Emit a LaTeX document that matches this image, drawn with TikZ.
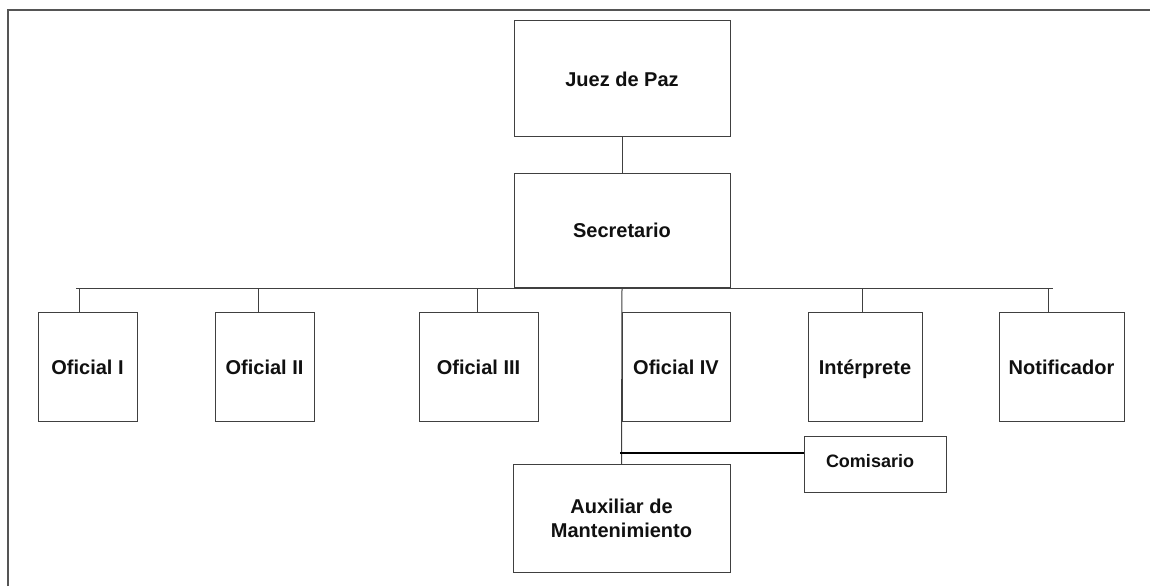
\documentclass[tikz,border=0pt]{standalone}
\usepackage{fontspec}
\setmainfont{Liberation Sans}
\definecolor{linec}{HTML}{404040}
\definecolor{framec}{HTML}{555555}
\definecolor{txtc}{HTML}{101010}
\begin{document}
\begin{tikzpicture}[x=1pt,y=-1pt,
  box/.style={draw=linec, line width=1pt, inner sep=0pt, outer sep=0pt, align=center,
    text=txtc, font=\bfseries\fontsize{20}{24}\selectfont},
  onebox/.style={box, text height=15.5pt, text depth=0pt},
  conn/.style={draw=linec, line width=1pt},
  thickconn/.style={draw=black, line width=2pt}]
\useasboundingbox (0,0) rectangle (1150,586);
\fill[white] (0,0) rectangle (1150,586);
% frame
\draw[framec, line width=2pt] (8,586) -- (8,10) -- (1150,10);
% nodes
\node[onebox, minimum width=216, minimum height=115] (juez) at (622,78.5) {Juez de Paz};
\node[onebox, minimum width=216, minimum height=114] (sec) at (622,230) {Secretario};
\node[onebox, minimum width=99, minimum height=109] (ofi1) at (87.5,366.5) {Oficial I};
\node[onebox, minimum width=99, minimum height=109] (ofi2) at (264.5,366.5) {Oficial II};
\node[onebox, minimum width=119, minimum height=109] (ofi3) at (478.5,366.5) {Oficial III};
\node[onebox, minimum width=108, minimum height=109] (ofi4) at (676,366.5) {Oficial IV};
\node[onebox, minimum width=114, minimum height=109] (inte) at (865,366.5) {Intérprete};
\node[onebox, minimum width=125, minimum height=109] (noti) at (1061.5,366.5) {Notificador};
\node[box, minimum width=142, minimum height=56, font=\bfseries\fontsize{18}{22}\selectfont] (com) at (875,464) {\raisebox{7pt}{Comisario}\hspace*{10pt}};
\node[box, minimum width=217, minimum height=108] (aux) at (621.5,518) {Auxiliar de\\Mantenimiento};
% connectors
\draw[conn] (juez.south) -- (sec.north);
\coordinate (busL) at (76,288);
\coordinate (busR) at (1053,288);
\draw[conn] (busL) -- (busR);
\coordinate (t1) at (79,288);
\coordinate (t2) at (258,288);
\coordinate (t3) at (477,288);
\coordinate (t5) at (862,288);
\coordinate (t6) at (1048,288);
\draw[conn] (t1) -- (t1 |- ofi1.north);
\draw[conn] (t2) -- (t2 |- ofi2.north);
\draw[conn] (t3) -- (t3 |- ofi3.north);
\draw[conn] (t5) -- (t5 |- inte.north);
\draw[conn] (t6) -- (t6 |- noti.north);
\draw[conn] (sec.south) -- (aux.north);
\coordinate (j) at (620,453);
\draw[thickconn] (j) -- (j -| com.west);
\end{tikzpicture}
\end{document}
